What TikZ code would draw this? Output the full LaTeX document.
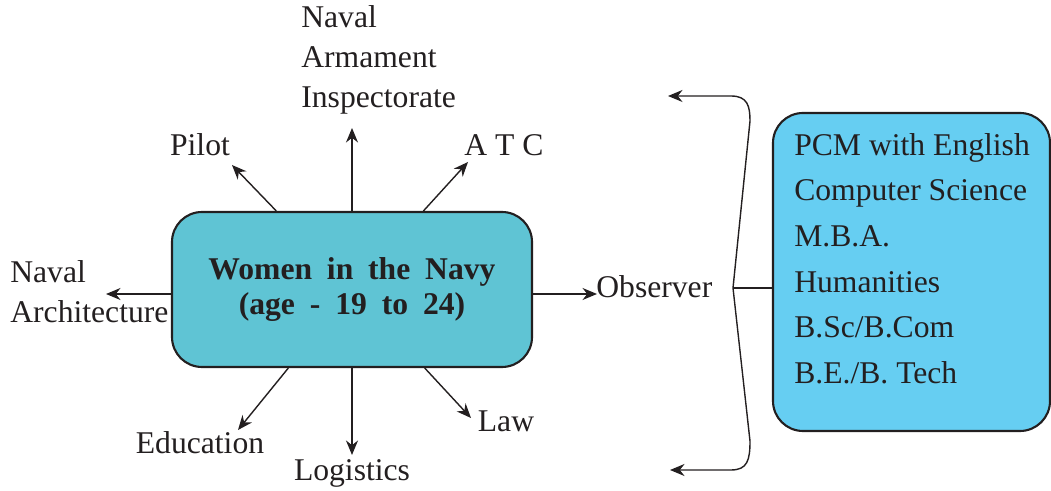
\documentclass[tikz,border=0pt]{standalone}
\usepackage{fontspec}
\setmainfont{Liberation Serif}
\usetikzlibrary{arrows.meta,positioning}

\definecolor{inkgray}{RGB}{35,31,32}
\definecolor{navyteal}{RGB}{95,196,212}
\definecolor{courseblue}{RGB}{102,206,242}

\newcommand{\widewords}{\spaceskip=0.47em\relax}

\tikzset{
    >={Stealth[length=2.9mm,width=2.4mm]},
    every node/.style={text=inkgray},
    careerlabel/.style={inner sep=0pt, font=\fontsize{18}{22.7}\selectfont},
    careerarrow/.style={->, line width=0.8pt, draw=inkgray},
    mainbox/.style={draw=inkgray, line width=1.2pt, fill=navyteal, rounded corners=0.6cm,
        minimum width=7.2cm, minimum height=3.1cm, align=center,
        font=\fontsize{18}{19.9}\selectfont\bfseries},
    subjbox/.style={draw=inkgray, line width=1.2pt, fill=courseblue, rounded corners=0.6cm,
        minimum width=5.54cm, minimum height=6.36cm}
}

\begin{document}
\begin{tikzpicture}
    \useasboundingbox (0,0) rectangle (21.02,9.82);

    % central box
    \node[mainbox] (women) at (7.04,4.03) {\widewords Women in the Navy\\\widewords (age - 19 to 24)};

    % career labels
    \node[careerlabel, anchor=west, align=left] (armament) at (6.02,8.62) {Naval\\Armament\\Inspectorate};
    \node[careerlabel] (pilot) at (4.0,6.92) {Pilot};
    \node[careerlabel] (atc) at (10.08,6.92) {A T C};
    \node[careerlabel, anchor=west, align=left] (architecture) at (0.2,3.98) {Naval\\Architecture};
    \node[careerlabel, anchor=base west] (observer) at (11.92,3.86) {Observer};
    \node[careerlabel] (education) at (4.0,0.96) {Education};
    \node[careerlabel] (logistics) at (7.04,0.36) {Logistics};
    \node[careerlabel] (law) at (10.12,1.40) {Law};

    % arrow tips
    \coordinate (pilottip) at (4.64,6.52);
    \coordinate (armtip) at (7.04,7.26);
    \coordinate (atctip) at (9.36,6.58);
    \coordinate (archtip) at (2.12,3.94);
    \coordinate (obstip) at (11.94,3.94);
    \coordinate (edutip) at (4.76,1.22);
    \coordinate (logtip) at (7.04,0.72);
    \coordinate (lawtip) at (9.42,1.46);

    \draw[careerarrow] (women) -- (pilottip);
    \draw[careerarrow] (women) -- (armtip);
    \draw[careerarrow] (women) -- (atctip);
    \draw[careerarrow] (women.west |- archtip) -- (archtip);
    \draw[careerarrow] (women.east |- obstip) -- (obstip);
    \draw[careerarrow] (women) -- (edutip);
    \draw[careerarrow] (women) -- (logtip);
    \draw[careerarrow] (women) -- (lawtip);

    % qualifications box
    \node[subjbox] (subjects) at (18.23,4.38) {};
    \node[careerlabel, anchor=north west, align=left, font=\fontsize{18}{26}\selectfont]
        (subjlist) at ([xshift=0.44cm, yshift=-0.42cm]subjects.north west)
        {PCM with English\\Computer Science\\M.B.A.\\Humanities\\B.Sc/B.Com\\B.E./B. Tech};

    % brace
    \coordinate (bracetop) at (13.36,7.9);
    \coordinate (bracemid) at (14.66,4.06);
    \coordinate (bracebot) at (13.4,0.42);
    \draw[careerarrow, <->] (bracetop) -- (14.62,7.9)
        .. controls (14.95,7.9) and (15.0,7.7) .. (15.0,7.4)
        -- (bracemid) -- (15.0,1.0)
        .. controls (15.0,0.62) and (14.95,0.42) .. (14.62,0.42) -- (bracebot);
    \draw[line width=0.8pt, draw=inkgray] (bracemid) -- (subjects.west |- bracemid);
\end{tikzpicture}
\end{document}
